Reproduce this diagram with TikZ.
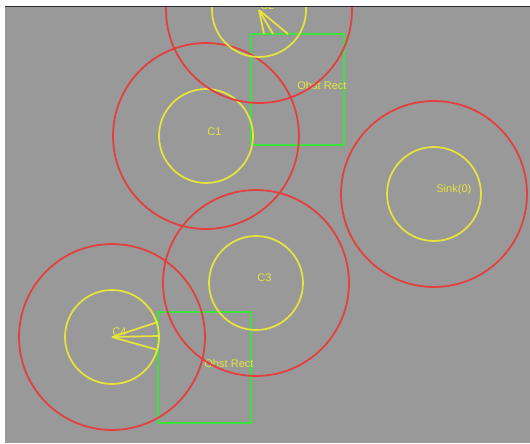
\documentclass[tikz,border=0pt]{standalone}
\usepackage{fontspec}
\setsansfont{Liberation Sans}
\usepackage{tikz}
\usetikzlibrary{positioning}
\definecolor{fieldgray}{RGB}{153,153,153}
\definecolor{framedark}{RGB}{40,40,60}
\definecolor{commred}{RGB}{228,62,62}
\definecolor{senseyellow}{RGB}{230,228,60}
\definecolor{obstgreen}{RGB}{60,225,60}
\tikzset{
  commrange/.style={circle, draw=commred, line width=1pt,
    minimum size=3.72cm, inner sep=0pt},
  senserange/.style={circle, draw=senseyellow, line width=1pt,
    minimum size=1.88cm, inner sep=0pt},
  obstacle/.style={rectangle, draw=obstgreen, line width=1.1pt,
    minimum width=1.866cm, minimum height=2.22cm, inner sep=0pt},
  ray/.style={draw=senseyellow, line width=1pt}
}

\begin{document}
\begin{tikzpicture}[
    x=0.02cm, y=-0.02cm,
    lbl/.style={text=senseyellow, anchor=west, inner sep=0pt,
                font=\sffamily\fontsize{6.3}{7}\selectfont}
]
\useasboundingbox (0,0) rectangle (530,443);

% field
\fill[fieldgray] (5,7) rectangle (530,443);
\draw[framedark, line width=0.6pt] (5,6.5) -- (530,6.5);

\begin{scope}
\clip (5,7) rectangle (530,443);

% sensor centres
\coordinate (c1)   at (206,136);
\coordinate (c2)   at (259,10);
\coordinate (c3)   at (256,283);
\coordinate (c4)   at (112,337);
\coordinate (sink) at (434,194);

% obstacles
\node[obstacle] (obstA) at (297.5,89.5)  {};
\node[obstacle] (obstB) at (204.5,367.5) {};
\node[lbl] (obstAlbl) at (297,86)  {Obst Rect};
\node[lbl] (obstBlbl) at (204,364) {Obst Rect};

% ranges
\node[commrange]  (c1comm)   at (c1)   {};
\node[senserange] (c1sense)  at (c1)   {};
\node[commrange]  (c2comm)   at (c2)   {};
\node[senserange] (c2sense)  at (c2)   {};
\node[commrange]  (c3comm)   at (c3)   {};
\node[senserange] (c3sense)  at (c3)   {};
\node[commrange]  (c4comm)   at (c4)   {};
\node[senserange] (c4sense)  at (c4)   {};
\node[commrange]  (sinkcomm) at (sink) {};
\node[senserange] (sinksense) at (sink) {};

% labels
\node[lbl] (c1lbl)   at (207,132) {C1};
\node[lbl] (c2lbl)   at (260,6)   {C2};
\node[lbl] (c3lbl)   at (257,278) {C3};
\node[lbl] (c4lbl)   at (112,332) {C4};
\node[lbl] (sinklbl) at (436,190) {Sink(0)};

% rays onto obstacles
\coordinate (hitA1) at (264,34);
\coordinate (hitA2) at (273,34);
\coordinate (hitA3) at (288,34);
\coordinate (hitB1) at (158,322);
\coordinate (hitB2) at (158,336);
\coordinate (hitB3) at (158,350);
\draw[ray] (c2) -- (hitA1);
\draw[ray] (c2) -- (hitA2);
\draw[ray] (c2) -- (hitA3);
\draw[ray] (c4) -- (hitB1);
\draw[ray] (c4) -- (hitB2);
\draw[ray] (c4) -- (hitB3);
\end{scope}

\end{tikzpicture}
\end{document}
